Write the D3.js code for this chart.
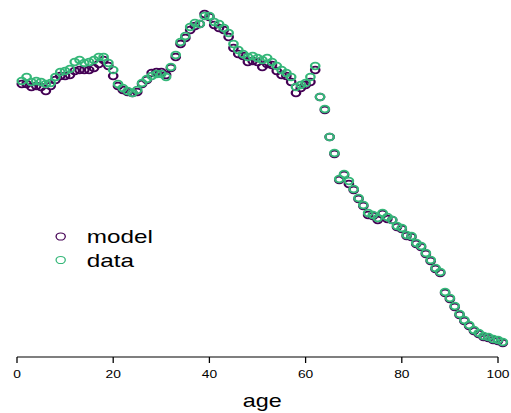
<!DOCTYPE html>
<html>
<head>
	<meta charset="utf-8">
	<title>model vs data by age</title>
	<script src="https://d3js.org/d3.v7.min.js"></script>
	<style>
		body { margin: 0; background: #fff; }
		svg { display: block; }
		text { font-family: 'Liberation Sans', Arial, Helvetica, sans-serif; fill: #000; }
	</style>
</head>
<body>
	<div class="chart"></div>

	<script type="text/javascript">
		// ages 1..101
		const ages = d3.range(1, 102)

		// values (arbitrary units, no y axis shown)
		const model = [
			259, 259, 256, 257, 256, 252, 257, 263, 267, 267,
			268, 272, 273, 273, 273, 275, 279, 283, 277, 267,
			257, 253, 251, 250, 251, 259, 263, 270, 271, 271,
			268, 275, 286, 299, 305, 313, 317, 319, 329, 326,
			318, 315, 313, 306, 295, 289, 287, 281, 282, 281,
			276, 279, 278, 272, 268, 267, 261, 250, 255, 258,
			261, 273, 246, 233, 206, 189, 163, 168, 159, 153,
			144, 137, 128, 127, 123, 129, 124, 123, 116, 114,
			107, 106, 99, 96, 89, 82, 74, 70, 50, 44,
			36, 28, 22, 17, 12, 9, 6, 5, 3, 2,
			0
		]
		const observed = [
			262, 266, 261, 262, 261, 259, 260, 266, 271, 272,
			274, 281, 283, 280, 281, 283, 286, 286, 280, 273,
			259, 255, 252, 250, 253, 260, 264, 267, 269, 269,
			266, 276, 288, 301, 307, 316, 320, 319, 327, 327,
			321, 319, 315, 310, 299, 293, 289, 286, 287, 285,
			283, 285, 281, 277, 273, 270, 266, 256, 258, 260,
			266, 277, 246, 234, 206, 190, 164, 169, 162, 154,
			145, 138, 130, 128, 125, 130, 126, 123, 117, 115,
			108, 107, 100, 97, 90, 83, 75, 71, 51, 45,
			37, 29, 23, 18, 13, 10, 7, 6, 4, 3,
			1
		]
		const xTicks = [0, 20, 40, 60, 80, 100]
		const seriesNames = ['model', 'data']
		const seriesColors = ['#440154', '#35b779']

		var width = 511
		var height = 413
		// the reference is stretched sideways, so draw in a narrower box
		var stretch = 1.2775
		var vbWidth = width / stretch

		var svg = d3
			.select('.chart')
			.append('svg')
			.attr('width', width)
			.attr('height', height)
			.attr('viewBox', `0 0 ${vbWidth} ${height}`)
			.attr('preserveAspectRatio', 'none')

		const x = d3.scaleLinear().domain([0, 100]).range([17 / stretch, 498 / stretch])
		const y = d3.scaleLinear().domain([0, 329]).range([343, 14])

		// axis
		const axisY = 357
		const axis = svg.append('g').attr('transform', `translate(0, ${axisY})`)
		axis.append('line')
			.attr('x1', x(0)).attr('x2', x(100))
			.attr('stroke', '#000').attr('stroke-width', 1)
		axis.selectAll('.tick')
			.data(xTicks)
			.join('line')
			.attr('class', 'tick')
			.attr('x1', (d) => x(d)).attr('x2', (d) => x(d))
			.attr('y1', 0).attr('y2', 6)
			.attr('stroke', '#000').attr('stroke-width', 1)
		axis.selectAll('.lab')
			.data(xTicks)
			.join('text')
			.attr('class', 'lab')
			.attr('x', (d) => x(d))
			.attr('y', 21.3)
			.attr('text-anchor', 'middle')
			.style('font-size', '10.8px')
			.text((d) => d)

		// axis title sits at the middle of the padded data range
		const ext = d3.extent(ages)
		svg.append('text')
			.attr('x', x((ext[0] + ext[1]) / 2))
			.attr('y', 407.5)
			.attr('text-anchor', 'middle')
			.style('font-size', '18.3px')
			.text('age')

		// points: model first, data on top
		const series = [model, observed]
		series.forEach((vals, k) => {
			svg.append('g')
				.selectAll('circle')
				.data(ages)
				.join('circle')
				.attr('cx', (d) => x(d))
				.attr('cy', (d, i) => y(vals[i]))
				.attr('r', 3.3)
				.attr('fill', 'none')
				.attr('stroke', seriesColors[k])
				.attr('stroke-width', 1.8)
		})

		// legend
		const legend = svg.append('g')
		seriesNames.forEach((name, k) => {
			const ly = 236.5 + k * 23.5
			legend.append('circle')
				.attr('cx', 47.5)
				.attr('cy', ly)
				.attr('r', 3.6)
				.attr('fill', 'none')
				.attr('stroke', seriesColors[k])
				.attr('stroke-width', 1)
			legend.append('text')
				.attr('x', 67.9)
				.attr('y', ly + 7)
				.style('font-size', '19px')
				.text(name)
		})
	</script>
</body>
</html>
